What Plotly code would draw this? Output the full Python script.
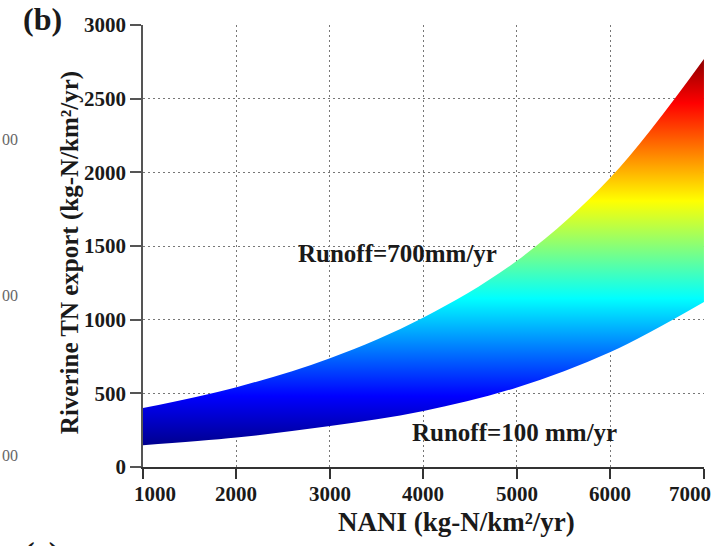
import plotly.graph_objects as go

# Data
nani = [1000, 2000, 3000, 4000, 5000, 6000, 7000]
tn_runoff_100 = [148, 200, 278, 380, 540, 780, 1120]
tn_runoff_700 = [400, 542, 738, 1015, 1400, 1965, 2770]
x_ticks = [1000, 2000, 3000, 4000, 5000, 6000, 7000]
y_ticks = [0, 500, 1000, 1500, 2000, 2500, 3000]

jet = [[0.0, "#00008F"], [0.125, "#0000FF"], [0.375, "#00FFFF"],
       [0.625, "#FFFF00"], [0.875, "#FF0000"], [1.0, "#800000"]]

SERIF = "Liberation Serif, Times New Roman, serif"
INK = "#1a1a1a"

fig = go.Figure()
fig.add_trace(go.Scatter(x=nani, y=tn_runoff_100, mode="lines",
                         line=dict(width=0, shape="spline"),
                         showlegend=False, hoverinfo="skip"))
fig.add_trace(go.Scatter(x=nani, y=tn_runoff_700, mode="lines",
                         line=dict(width=0, shape="spline"),
                         fill="tonexty",
                         fillgradient=dict(type="vertical", colorscale=jet,
                                           start=150, stop=2800),
                         showlegend=False, hoverinfo="skip"))

fig.update_layout(
    width=722, height=546,
    margin=dict(l=143, r=18, t=25, b=79),
    paper_bgcolor="white", plot_bgcolor="white",
    font=dict(family=SERIF, color=INK),
    showlegend=False,
)
tickfont = dict(size=21, family=SERIF, color=INK, weight="bold")
fig.update_xaxes(range=[1000, 7000.5], tickvals=x_ticks, showticklabels=False,
                 showline=True, linecolor="#333", linewidth=1.5,
                 ticks="outside", ticklen=10, tickcolor="#333", tickwidth=1.5,
                 showgrid=True, gridcolor="#777", griddash="2px,3px", gridwidth=1,
                 zeroline=False)
fig.update_yaxes(range=[0, 3000], tickvals=y_ticks,
                 ticktext=[str(v) for v in y_ticks], tickfont=tickfont,
                 showline=True, linecolor="#555", linewidth=1.5,
                 ticks="outside", ticklen=11, tickcolor="#555", tickwidth=1.5,
                 showgrid=True, gridcolor="#777", griddash="2px,3px", gridwidth=1,
                 zeroline=False)

def a(text, x, y, size, xref="paper", yref="paper", **kw):
    d = dict(text=text, x=x, y=y, xref=xref, yref=yref, showarrow=False,
             xanchor="center", yanchor="middle",
             font=dict(size=size, family=SERIF, color=INK))
    d.update(kw)
    return d

ann = [
    a("<b>Runoff=700mm/yr</b>", 3727, 1452, 25, xref="x", yref="y"),
    a("<b>Runoff=100 mm/yr</b>", 4973, 231, 25, xref="x", yref="y"),
    a("<b>Riverine TN export (kg-N/km²/yr)</b>", -0.130, 0.484, 25, textangle=-90),
    a("<b>NANI (kg-N/km²/yr)</b>", 0.558, -0.124, 27),
    a("<b>(b)</b>", -0.18, 1.0136, 32),
    a("<b>(c)</b>", -0.18, -0.149, 32, yanchor="top"),
]
# x tick labels (end labels kept inside the frame like the reference)
for i, v in enumerate(x_ticks):
    kw = dict(yanchor="top")
    if i == 0:
        kw.update(xanchor="left", xshift=-11)
    elif i == len(x_ticks) - 1:
        kw.update(xanchor="right", xshift=9)
    ann.append(a(f"<b>{v}</b>", v, -0.029, 21, xref="x", **kw))
# clipped tick labels of the neighbouring panel on the left edge
for yp in [0.740, 0.389, 0.027]:
    ann.append(dict(text="00", x=0, y=yp, xref="paper", yref="paper",
                    xanchor="right", yanchor="middle", xshift=-123,
                    font=dict(size=16, family=SERIF, color="#666"),
                    showarrow=False))
fig.update_layout(annotations=ann)

fig.write_html("out.html")
